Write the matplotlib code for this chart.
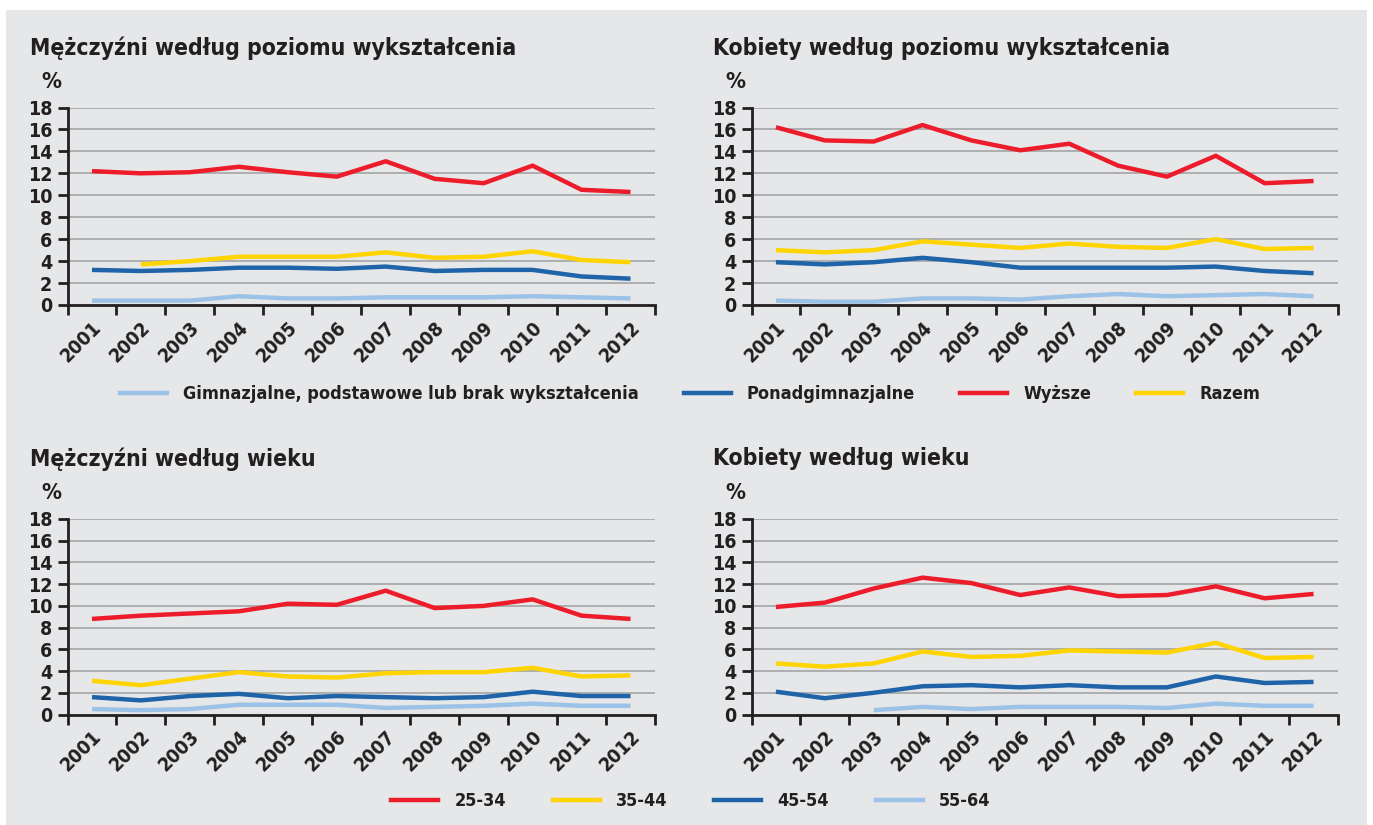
import numpy as np
import matplotlib
matplotlib.use("Agg")
import matplotlib.pyplot as plt
from matplotlib.patches import Rectangle
from matplotlib.lines import Line2D

plt.rcParams['font.family'] = ['DejaVu Sans']
plt.rcParams['font.stretch'] = 'condensed'

years = ["2001", "2002", "2003", "2004", "2005", "2006",
         "2007", "2008", "2009", "2010", "2011", "2012"]
nan = np.nan

# men by education
m_gimn = [0.4, 0.4, 0.4, 0.8, 0.6, 0.6, 0.7, 0.7, 0.7, 0.8, 0.7, 0.6]
m_ponad = [3.2, 3.1, 3.2, 3.4, 3.4, 3.3, 3.5, 3.1, 3.2, 3.2, 2.6, 2.4]
m_wyzsze = [12.2, 12.0, 12.1, 12.6, 12.1, 11.7, 13.1, 11.5, 11.1, 12.7, 10.5, 10.3]
m_razem = [nan, 3.7, 4.0, 4.4, 4.4, 4.4, 4.8, 4.3, 4.4, 4.9, 4.1, 3.9]

# women by education
k_gimn = [0.4, 0.3, 0.3, 0.6, 0.6, 0.5, 0.8, 1.0, 0.8, 0.9, 1.0, 0.8]
k_ponad = [3.9, 3.7, 3.9, 4.3, 3.9, 3.4, 3.4, 3.4, 3.4, 3.5, 3.1, 2.9]
k_wyzsze = [16.2, 15.0, 14.9, 16.4, 15.0, 14.1, 14.7, 12.7, 11.7, 13.6, 11.1, 11.3]
k_razem = [5.0, 4.8, 5.0, 5.8, 5.5, 5.2, 5.6, 5.3, 5.2, 6.0, 5.1, 5.2]

# men by age
m_25_34 = [8.8, 9.1, 9.3, 9.5, 10.2, 10.1, 11.4, 9.8, 10.0, 10.6, 9.1, 8.8]
m_35_44 = [3.1, 2.7, 3.3, 3.9, 3.5, 3.4, 3.8, 3.9, 3.9, 4.3, 3.5, 3.6]
m_45_54 = [1.6, 1.3, 1.7, 1.9, 1.5, 1.7, 1.6, 1.5, 1.6, 2.1, 1.7, 1.7]
m_55_64 = [0.5, 0.4, 0.5, 0.9, 0.9, 0.9, 0.6, 0.7, 0.8, 1.0, 0.8, 0.8]

# women by age
k_25_34 = [9.9, 10.3, 11.6, 12.6, 12.1, 11.0, 11.7, 10.9, 11.0, 11.8, 10.7, 11.1]
k_35_44 = [4.7, 4.4, 4.7, 5.8, 5.3, 5.4, 5.9, 5.8, 5.7, 6.6, 5.2, 5.3]
k_45_54 = [2.1, 1.5, 2.0, 2.6, 2.7, 2.5, 2.7, 2.5, 2.5, 3.5, 2.9, 3.0]
k_55_64 = [nan, nan, 0.4, 0.7, 0.5, 0.7, 0.7, 0.7, 0.6, 1.0, 0.8, 0.8]

edu_labels = ["Gimnazjalne, podstawowe lub brak wykształcenia",
              "Ponadgimnazjalne", "Wyższe", "Razem"]
age_labels = ["25-34", "35-44", "45-54", "55-64"]

LIGHT = "#9cc2e7"
DARK = "#1f63a8"
RED = "#ec1c2b"
YELLOW = "#ffd400"
BG = "#e6e7e9"
INK = "#231f20"
GRID = "#a7a9ac"

W, H = 1373, 825
fig = plt.figure(figsize=(W / 100, H / 100), dpi=100)
fig.patch.set_facecolor("white")
fig.patches.append(Rectangle((6 / W, 0), (1367 - 6) / W, (H - 10) / H,
                             transform=fig.transFigure, facecolor=BG,
                             edgecolor="none", zorder=-10))


def px_axes(x0, x1, ytop, ybot):
    return fig.add_axes([x0 / W, 1 - ybot / H, (x1 - x0) / W, (ybot - ytop) / H])


def draw_panel(ax, title, series, colors, title_x, title_y, pct_x, pct_y):
    ax.set_facecolor("none")
    x = np.arange(len(years)) + 0.5
    for vals, col in zip(series, colors):
        ax.plot(x, vals, color=col, lw=3.2, solid_capstyle="butt", zorder=3)
    ax.set_xlim(0, len(years))
    ax.set_ylim(0, 18)
    ax.set_yticks(np.arange(0, 19, 2))
    for v in range(2, 19, 2):
        ax.axhline(v, color=GRID, lw=1.3, zorder=1)
    for s in ["top", "right"]:
        ax.spines[s].set_visible(False)
    for s in ["left", "bottom"]:
        ax.spines[s].set_color(INK)
        ax.spines[s].set_linewidth(2.0)
        ax.spines[s].set_zorder(4)
    # tick marks between categories, labels at category centres
    ax.set_xticks(np.arange(0, len(years) + 1))
    ax.set_xticklabels([])
    ax.set_xticks(x, minor=True)
    ax.set_xticklabels(years, minor=True, rotation=45, ha="right",
                       va="top", rotation_mode="anchor",
                       fontsize=14, fontweight="bold", color=INK)
    ax.tick_params(axis="x", which="major", length=7, width=2, color=INK,
                   direction="out")
    ax.tick_params(axis="x", which="minor", length=0, pad=9)
    ax.tick_params(axis="y", length=7, width=2, color=INK, pad=4,
                   labelsize=14, labelcolor=INK)
    for lab in ax.get_yticklabels():
        lab.set_fontweight("bold")
    fig.text(title_x / W, 1 - title_y / H, title, fontsize=16.5,
             fontweight="bold", color=INK, ha="left", va="center")
    fig.text(pct_x / W, 1 - pct_y / H, "%", fontsize=16,
             fontweight="bold", color=INK, ha="left", va="center")


ax1 = px_axes(67.5, 655, 107.5, 305)
draw_panel(ax1, "Mężczyźni według poziomu wykształcenia",
           [m_gimn, m_ponad, m_wyzsze, m_razem], [LIGHT, DARK, RED, YELLOW],
           30, 48, 41, 82)

ax2 = px_axes(751.5, 1338, 107.5, 305)
draw_panel(ax2, "Kobiety według poziomu wykształcenia",
           [k_gimn, k_ponad, k_wyzsze, k_razem], [LIGHT, DARK, RED, YELLOW],
           713, 48, 725, 82)

ax3 = px_axes(67.5, 655, 519, 714.5)
draw_panel(ax3, "Mężczyźni według wieku",
           [m_55_64, m_45_54, m_25_34, m_35_44], [LIGHT, DARK, RED, YELLOW],
           30, 459, 41, 493)

ax4 = px_axes(751.5, 1338, 519, 714.5)
draw_panel(ax4, "Kobiety według wieku",
           [k_55_64, k_45_54, k_25_34, k_35_44], [LIGHT, DARK, RED, YELLOW],
           713, 459, 725, 493)

edu_handles = [Line2D([], [], color=c, lw=3.2) for c in [LIGHT, DARK, RED, YELLOW]]
leg1 = fig.legend(edu_handles, edu_labels, loc="center", ncol=4,
                  bbox_to_anchor=(690 / W, 1 - 394 / H), frameon=False,
                  handlelength=2.6, handletextpad=0.9, columnspacing=2.5,
                  prop={"size": 13, "weight": "bold", "stretch": "condensed"})
for t in leg1.get_texts():
    t.set_color(INK)

age_handles = [Line2D([], [], color=c, lw=3.2) for c in [RED, YELLOW, DARK, LIGHT]]
leg2 = fig.legend(age_handles, age_labels, loc="center", ncol=4,
                  bbox_to_anchor=(691 / W, 1 - 801 / H), frameon=False,
                  handlelength=2.6, handletextpad=0.9, columnspacing=2.6,
                  prop={"size": 13, "weight": "bold", "stretch": "condensed"})
for t in leg2.get_texts():
    t.set_color(INK)

fig.savefig("out.png", dpi=100, facecolor=fig.get_facecolor())
